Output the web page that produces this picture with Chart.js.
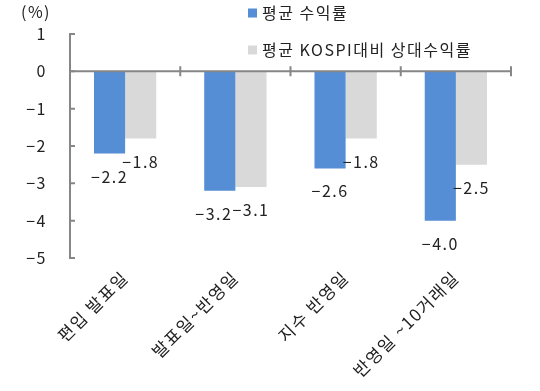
<!DOCTYPE html>
<html>
<head>
<meta charset="utf-8">
<script src="https://cdn.jsdelivr.net/npm/chart.js@4/dist/chart.umd.min.js"></script>
<style>
  html, body { margin: 0; padding: 0; background: #ffffff; }
  #wrap { width: 540px; height: 391px; position: relative; }
</style>
</head>
<body>
<div id="wrap"><canvas id="c" width="540" height="391"></canvas></div>
<script>
const categories = ['편입 발표일', '발표일~반영일', '지수 반영일', '반영일 ~10거래일'];
const avgReturn = [-2.2, -3.2, -2.6, -4.0];
const relReturn = [-1.8, -3.1, -1.8, -2.5];
const seriesLabels = ['평균 수익률', '평균 KOSPI대비 상대수익률'];
const yUnit = '(%)';
const yMin = -5, yMax = 1, yStep = 1;

const FONT = '"Noto Sans CJK KR", "Noto Sans", sans-serif';
const AXIS = '#868686';
const TEXT = '#222222';
const BLUE = '#558ED5';
const GRAY = '#D9D9D9';
const SPACING = '1.5px';

function fmt(v, digits) {
  const s = Math.abs(v).toFixed(digits);
  return v < 0 ? '\u2212' + s : s;
}

const spacingPlugin = {
  id: 'spacing',
  beforeUpdate(chart) { chart.ctx.letterSpacing = SPACING; },
  beforeDraw(chart) { chart.ctx.letterSpacing = SPACING; }
};

const decorPlugin = {
  id: 'decor',
  afterDatasetsDraw(chart) {
    const ctx = chart.ctx;
    const x = chart.scales.x, y = chart.scales.y;
    const area = chart.chartArea;
    ctx.save();
    ctx.letterSpacing = SPACING;
    // zero line with category boundary ticks
    const y0 = y.getPixelForValue(0);
    ctx.strokeStyle = AXIS;
    ctx.lineWidth = 2;
    ctx.beginPath();
    ctx.moveTo(area.left, y0);
    ctx.lineTo(area.right, y0);
    const n = categories.length;
    for (let i = 1; i <= n; i++) {
      const bx = x.getPixelForValue(i - 0.5);
      ctx.moveTo(bx, y0 - 5);
      ctx.lineTo(bx, y0 + 5);
    }
    ctx.stroke();
    // inward y ticks
    ctx.beginPath();
    for (let v = yMin; v <= yMax; v += yStep) {
      const py = y.getPixelForValue(v);
      ctx.moveTo(area.left, py);
      ctx.lineTo(area.left + 5, py);
    }
    ctx.stroke();

    // data labels
    ctx.font = '16px ' + FONT;
    ctx.fillStyle = TEXT;
    ctx.textAlign = 'center';
    ctx.textBaseline = 'middle';
    const m0 = chart.getDatasetMeta(0).data, m1 = chart.getDatasetMeta(1).data;
    const d0 = chart.data.datasets[0].data, d1 = chart.data.datasets[1].data;
    for (let j = 0; j < m0.length; j++) {
      const a = { x: m0[j].x, y: m0[j].y + 23, t: fmt(d0[j], 1) };
      const b = { x: m1[j].x, y: m1[j].y + 23, t: fmt(d1[j], 1) };
      const wa = ctx.measureText(a.t).width, wb = ctx.measureText(b.t).width;
      if (Math.abs(a.y - b.y) < 12) {
        const overlap = (a.x + wa / 2) - (b.x - wb / 2);
        if (overlap > 0) a.x -= overlap;
      }
      ctx.fillText(a.t, a.x, a.y);
      ctx.fillText(b.t, b.x, b.y);
    }

    // unit label
    ctx.fillText(yUnit, 36, 12);

    // legend
    ctx.textAlign = 'left';
    const ly = [13, 50];
    chart.data.datasets.forEach((ds, i) => {
      ctx.fillStyle = ds.backgroundColor;
      ctx.fillRect(248, ly[i] - 4.5, 9, 9);
      ctx.fillStyle = TEXT;
      ctx.fillText(ds.label, 262, ly[i]);
    });
    ctx.restore();
  }
};

new Chart(document.getElementById('c'), {
  type: 'bar',
  data: {
    labels: categories,
    datasets: [
      { label: seriesLabels[0], data: avgReturn, backgroundColor: BLUE },
      { label: seriesLabels[1], data: relReturn, backgroundColor: GRAY }
    ]
  },
  options: {
    responsive: false,
    animation: false,
    devicePixelRatio: 1,
    layout: { padding: { top: 34, right: 29, left: 0, bottom: 0 } },
    datasets: { bar: { barPercentage: 1.0, categoryPercentage: 0.565 } },
    plugins: { legend: { display: false }, tooltip: { enabled: false } },
    scales: {
      x: {
        grid: { display: false, drawTicks: false },
        border: { display: false },
        ticks: {
          minRotation: 45, maxRotation: 45, autoSkip: false, padding: 9,
          color: TEXT, font: { family: FONT, size: 17 }
        },
        afterFit(s) { s.height = 133; }
      },
      y: {
        min: yMin, max: yMax,
        grid: { display: false, drawTicks: false },
        border: { display: true, color: AXIS, width: 2 },
        ticks: {
          stepSize: yStep, padding: 23, color: TEXT,
          font: { family: FONT, size: 16 },
          callback: (v) => fmt(v, 0)
        },
        afterFit(s) { s.width = 70; }
      }
    }
  },
  plugins: [spacingPlugin, decorPlugin]
});
</script>
</body>
</html>
